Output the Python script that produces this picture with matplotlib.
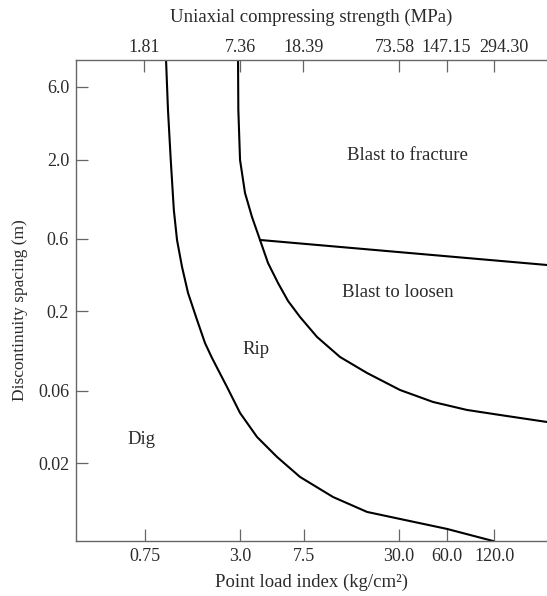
import matplotlib.pyplot as plt
import matplotlib.transforms as mtransforms

plt.rcParams["font.family"] = ["Liberation Serif", "DejaVu Serif"]

# boundary curves (point load index kg/cm2, discontinuity spacing m)
dig_rip_x = [1.018, 1.047, 1.090, 1.140, 1.194, 1.284, 1.401, 1.597, 1.793, 1.985,
             2.469, 2.983, 3.816, 5.105, 7.129, 11.51, 18.87, 30.47, 60.3, 117.7]
dig_rip_y = [9.03, 4.24, 1.986, 0.931, 0.591, 0.393, 0.265, 0.176, 0.124, 0.0989,
             0.0637, 0.0430, 0.0299, 0.02208, 0.01631, 0.01204, 0.00960, 0.00863, 0.00742, 0.00618]

rip_blast_x = [2.897, 2.910, 2.983, 3.206, 3.549, 3.988, 4.478, 5.179, 5.99, 7.129,
               9.127, 12.75, 18.87, 30.47, 49.2, 80.6, 130.2, 257.9]
rip_blast_y = [9.03, 4.24, 1.986, 1.205, 0.837, 0.591, 0.417, 0.308, 0.2346, 0.1841,
               0.1360, 0.1004, 0.0788, 0.0609, 0.0508, 0.0450, 0.0417, 0.0375]

fracture_x = [3.988, 257.9]
fracture_y = [0.591, 0.4046]

# axis ticks
pli_ticks = [0.75, 3.0, 7.5, 30.0, 60.0, 120.0]
ucs_ticks = [1.81, 7.36, 18.39, 73.58, 147.15, 294.30]
spacing_ticks = [6.0, 2.0, 0.6, 0.2, 0.06, 0.02]
ucs_per_pli = 2.4525  # MPa per kg/cm2

zones = ["Blast to fracture", "Blast to loosen", "Rip", "Dig"]
zone_x = [34.1, 29.5, 3.78, 0.708]
zone_y = [2.14, 0.265, 0.112, 0.0286]

text_col = "#2a2a2a"
axis_col = "#666666"

fig = plt.figure(figsize=(5.47, 5.96), dpi=100)
ax = fig.add_axes([0.139, 0.0923, 0.861, 0.807])

for xs, ys in [(dig_rip_x, dig_rip_y), (rip_blast_x, rip_blast_y), (fracture_x, fracture_y)]:
    ax.plot(xs, ys, color="black", lw=1.5, solid_joinstyle="round")

ax.set_xscale("log")
ax.set_yscale("log")
ax.set_xlim(0.2753, 257.9)
ax.set_ylim(0.00618, 9.03)

ax.set_xticks(pli_ticks)
ax.set_xticklabels([f"{v:g}" if v < 1 else f"{v:.1f}" for v in pli_ticks])
ax.set_yticks(spacing_ticks)
ax.set_yticklabels([f"{v:g}" if v < 1 else f"{v:.1f}" for v in spacing_ticks])
ax.minorticks_off()
ax.tick_params(direction="in", length=8.5, width=0.9, color=axis_col,
               labelsize=13, labelcolor=text_col, pad=5)
ax.set_xlabel("Point load index (kg/cm\u00b2)", fontsize=13.5, color=text_col, labelpad=6)
ax.set_ylabel("Discontinuity spacing (m)", fontsize=12.5, color=text_col)
ax.yaxis.set_label_coords(-0.102, 0.48)

for side in ["left", "bottom", "top"]:
    ax.spines[side].set_color(axis_col)
    ax.spines[side].set_linewidth(1.0)
ax.spines["right"].set_visible(False)

for name, zx, zy in zip(zones, zone_x, zone_y):
    ax.text(zx, zy, name, fontsize=13.5, ha="center", va="center", color=text_col)

# uniaxial compressive strength scale along the top
top = ax.secondary_xaxis("top", functions=(lambda x: x * ucs_per_pli,
                                             lambda x: x / ucs_per_pli))
top.set_xticks(ucs_ticks)
top.set_xticklabels([f"{v:.2f}" for v in ucs_ticks])
top.minorticks_off()
top.tick_params(direction="in", length=8.5, width=0.9, color=axis_col,
                labelsize=13, labelcolor=text_col, pad=3)
top.spines["top"].set_visible(False)
top.set_xlabel("Uniaxial compressing strength (MPa)", fontsize=13.5,
               color=text_col, labelpad=12)

# nudge the crowded labels at the right end apart
shifts = {3: -4, 5: 10}
for i, lab in enumerate(top.get_xticklabels()):
    if i in shifts:
        lab.set_transform(lab.get_transform() +
                          mtransforms.ScaledTranslation(shifts[i] / 100, 0, fig.dpi_scale_trans))

fig.savefig("out.png", dpi=100)
